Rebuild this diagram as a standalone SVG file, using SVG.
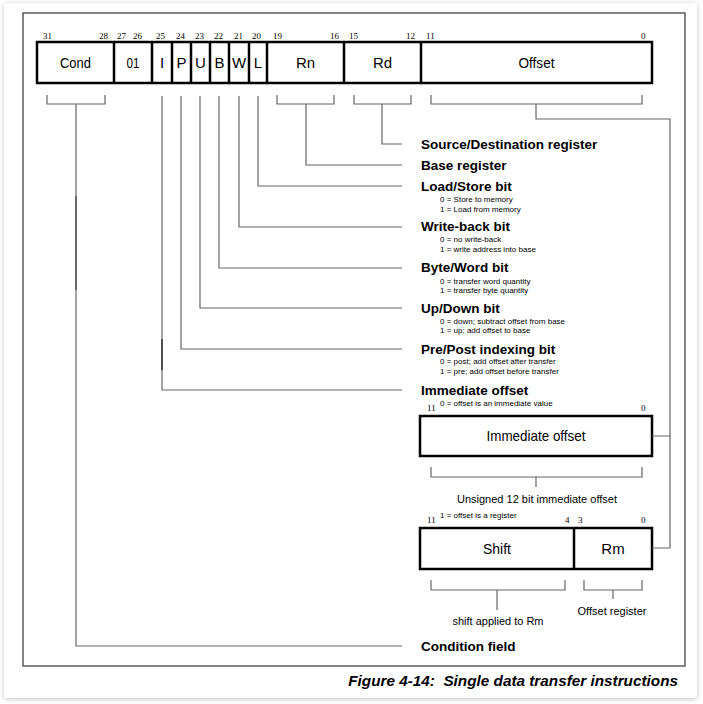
<svg xmlns="http://www.w3.org/2000/svg" width="703" height="704" viewBox="0 0 703 704">
<style>
.box{fill:#fff;stroke:#000;stroke-width:2.5}
.div{stroke:#000;stroke-width:2.5}
.ln{fill:none;stroke:#666;stroke-width:1.2}
.num{font-family:"Liberation Serif","Times New Roman",serif;font-size:9px;fill:#000}
.fld{font-family:"Liberation Sans",Arial,sans-serif;font-size:15px;fill:#000;text-anchor:middle}
.ttl{font-family:"Liberation Sans",Arial,sans-serif;font-size:13.5px;font-weight:bold;fill:#000}
.sub{font-family:"Liberation Sans",Arial,sans-serif;font-size:8px;fill:#000}
.cap{font-family:"Liberation Sans",Arial,sans-serif;font-size:11px;fill:#000;text-anchor:middle}
</style>
<defs>
<filter id="sh" x="-5%" y="-5%" width="110%" height="110%">
<feDropShadow dx="0" dy="1" stdDeviation="2.5" flood-color="#000" flood-opacity="0.25"/>
</filter>
</defs>
<rect x="0" y="0" width="703" height="704" fill="#fff"/>
<rect x="4" y="3" width="693" height="695" rx="3" fill="#fff" filter="url(#sh)"/>
<rect x="23" y="13" width="662" height="653" fill="none" stroke="#333" stroke-width="1.2"/>

<g id="instruction-word">
<rect class="box" x="37" y="42" width="615" height="41"/>
<line class="div" x1="114" y1="42" x2="114" y2="83"/>
<line class="div" x1="152" y1="42" x2="152" y2="83"/>
<line class="div" x1="172" y1="42" x2="172" y2="83"/>
<line class="div" x1="191" y1="42" x2="191" y2="83"/>
<line class="div" x1="210" y1="42" x2="210" y2="83"/>
<line class="div" x1="229" y1="42" x2="229" y2="83"/>
<line class="div" x1="249" y1="42" x2="249" y2="83"/>
<line class="div" x1="267" y1="42" x2="267" y2="83"/>
<line class="div" x1="344" y1="42" x2="344" y2="83"/>
<line class="div" x1="421" y1="42" x2="421" y2="83"/>
<text class="fld" x="75.5" y="68" textLength="31" lengthAdjust="spacingAndGlyphs">Cond</text>
<text class="fld" x="133" y="68" textLength="13" lengthAdjust="spacingAndGlyphs">01</text>
<text class="fld" x="162" y="68">I</text>
<text class="fld" x="181.5" y="68">P</text>
<text class="fld" x="200.5" y="68">U</text>
<text class="fld" x="219.5" y="68">B</text>
<text class="fld" x="239" y="68">W</text>
<text class="fld" x="258" y="68">L</text>
<text class="fld" x="305.5" y="68">Rn</text>
<text class="fld" x="382.5" y="68">Rd</text>
<text class="fld" x="536.5" y="68" textLength="36" lengthAdjust="spacingAndGlyphs">Offset</text>
<text class="num" x="43" y="39">31</text>
<text class="num" x="99" y="39">28</text>
<text class="num" x="117" y="39">27</text>
<text class="num" x="133" y="39">26</text>
<text class="num" x="156" y="39">25</text>
<text class="num" x="176" y="39">24</text>
<text class="num" x="195" y="39">23</text>
<text class="num" x="214" y="39">22</text>
<text class="num" x="234" y="39">21</text>
<text class="num" x="252" y="39">20</text>
<text class="num" x="273" y="39">19</text>
<text class="num" x="330" y="39">16</text>
<text class="num" x="349" y="39">15</text>
<text class="num" x="406" y="39">12</text>
<text class="num" x="426" y="39">11</text>
<text class="num" x="641" y="39">0</text>
</g>

<g id="immediate-box">
<rect class="box" x="420" y="416" width="232" height="40"/>
<text class="fld" x="536" y="441" textLength="99" lengthAdjust="spacingAndGlyphs">Immediate offset</text>
<text class="num" x="427" y="411">11</text>
<text class="num" x="641" y="411">0</text>
</g>

<g id="register-box">
<rect class="box" x="420" y="528" width="232" height="41"/>
<line class="div" x1="574" y1="528" x2="574" y2="569"/>
<text class="fld" x="497" y="554" textLength="28" lengthAdjust="spacingAndGlyphs">Shift</text>
<text class="fld" x="613" y="554">Rm</text>
<text class="num" x="427" y="523">11</text>
<text class="num" x="565" y="523">4</text>
<text class="num" x="578" y="523">3</text>
<text class="num" x="641" y="523">0</text>
</g>

<g id="connectors">
<path class="ln" d="M47 95V104H105V95M76 104V646H402"/>
<path class="ln" d="M277 95V104H334V95M306 104V165H402"/>
<path class="ln" d="M354 95V104H411V95M382 104V144H402"/>
<path class="ln" d="M431 95V104H642V95M536 104V119H670V548H652M670 436H652"/>
<path class="ln" d="M258 96V186H402"/>
<path class="ln" d="M239 96V227H402"/>
<path class="ln" d="M219 96V268H402"/>
<path class="ln" d="M200 96V308H402"/>
<path class="ln" d="M181 96V349H402"/>
<path class="ln" d="M162 96V390H402"/>
<line x1="76" y1="196" x2="76" y2="290" stroke="#444" stroke-width="1.2"/>
<line x1="162" y1="339" x2="162" y2="370" stroke="#222" stroke-width="1.3"/>
<path class="ln" d="M431 467V477H642V467M536 477V487"/>
<path class="ln" d="M431 580V590H565V580M497 590V610"/>
<path class="ln" d="M584 580V590H642V580M613 590V599"/>
</g>

<g id="labels">
<text class="ttl" x="421" y="149">Source/Destination register</text>
<text class="ttl" x="421" y="170">Base register</text>
<text class="ttl" x="421" y="191">Load/Store bit</text>
<text class="sub" x="440" y="202">0 = Store to memory</text>
<text class="sub" x="440" y="212">1 = Load from memory</text>
<text class="ttl" x="421" y="231">Write-back bit</text>
<text class="sub" x="440" y="242">0 = no write-back</text>
<text class="sub" x="440" y="252">1 = write address into base</text>
<text class="ttl" x="421" y="272">Byte/Word bit</text>
<text class="sub" x="440" y="284">0 = transfer word quantity</text>
<text class="sub" x="440" y="293">1 = transfer byte quantity</text>
<text class="ttl" x="421" y="313">Up/Down bit</text>
<text class="sub" x="440" y="324">0 = down; subtract offset from base</text>
<text class="sub" x="440" y="333">1 = up; add offset to base</text>
<text class="ttl" x="421" y="354">Pre/Post indexing bit</text>
<text class="sub" x="440" y="364">0 = post; add offset after transfer</text>
<text class="sub" x="440" y="374">1 = pre; add offset before transfer</text>
<text class="ttl" x="421" y="395">Immediate offset</text>
<text class="sub" x="440" y="406">0 = offset is an immediate value</text>
<text class="cap" x="537" y="503">Unsigned 12 bit immediate offset</text>
<text class="sub" x="440" y="518">1 = offset is a register</text>
<text class="cap" x="498" y="625">shift applied to Rm</text>
<text class="cap" x="612" y="615">Offset register</text>
<text class="ttl" x="421" y="651">Condition field</text>
<text x="678" y="686" xml:space="preserve" text-anchor="end" font-family="'Liberation Sans',Arial,sans-serif" font-size="15.3px" font-weight="bold" font-style="italic" fill="#000">Figure 4-14:  Single data transfer instructions</text>
</g>
</svg>
